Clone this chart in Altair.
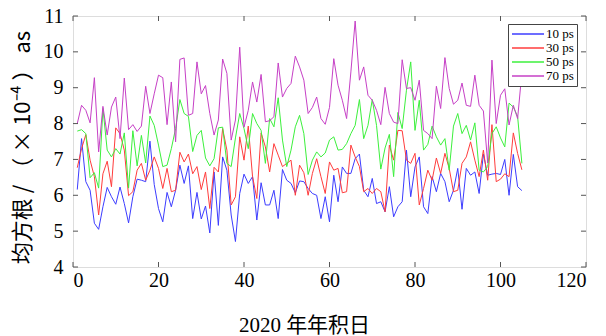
import altair as alt
import pandas as pd

days = list(range(1, 106))

s10 = [6.16, 7.58, 6.38, 6.14, 5.22, 5.05, 5.68, 6.22, 5.96, 5.75,
       6.23, 5.77, 5.23, 5.96, 6.45, 6.42, 6.38, 7.51, 6.30, 5.63,
       5.26, 6.08, 5.68, 6.14, 6.84, 6.33, 6.82, 5.35, 6.08, 5.34,
       5.70, 4.95, 6.65, 5.16, 7.07, 6.70, 5.45, 4.71, 6.05, 6.59,
       6.33, 6.52, 5.31, 6.35, 5.73, 5.73, 6.14, 5.35, 6.72, 6.42,
       6.33, 6.07, 6.40, 6.38, 6.19, 6.05, 6.00, 5.35, 5.96, 5.26,
       6.56, 5.82, 6.79, 6.61, 6.61, 7.02, 7.15, 6.14, 5.96, 6.47,
       5.77, 5.82, 5.54, 6.24, 5.40, 5.68, 5.82, 7.26, 5.96, 6.79,
       7.07, 5.68, 5.49, 6.52, 6.10, 6.61, 6.38, 5.82, 6.14, 6.75,
       5.61, 6.75, 6.56, 6.65, 6.05, 7.15, 6.56, 6.59, 6.61, 6.58,
       7.00, 6.00, 7.14, 6.24, 6.13]

s30 = [6.77, 7.30, 7.69, 6.98, 6.52, 5.45, 6.60, 6.95, 6.24, 7.88,
       7.72, 7.26, 5.99, 6.10, 6.70, 6.89, 6.42, 6.70, 7.07, 6.75,
       6.19, 6.75, 6.10, 6.14, 7.20, 6.93, 7.15, 6.60, 6.80, 6.16,
       6.65, 5.63, 6.78, 6.65, 7.86, 7.26, 5.73, 5.96, 7.63, 6.98,
       7.93, 6.52, 5.91, 7.74, 7.35, 6.65, 7.44, 7.12, 6.80, 6.89,
       6.98, 6.00, 6.84, 6.63, 6.00, 6.61, 7.02, 6.52, 6.05, 6.93,
       6.70, 6.75, 6.07, 6.10, 7.40, 7.07, 6.80, 6.10, 6.19, 6.05,
       6.19, 6.10, 5.54, 7.40, 6.98, 7.81, 7.80, 6.98, 6.89, 7.17,
       5.73, 6.19, 6.70, 6.42, 7.04, 6.61, 7.17, 6.75, 6.10, 6.14,
       6.89, 7.07, 7.49, 6.98, 6.52, 7.26, 6.42, 7.97, 6.38, 6.45,
       6.60, 6.52, 7.74, 7.17, 6.71]

s50 = [7.79, 7.83, 7.72, 6.49, 6.63, 6.20, 8.42, 7.26, 7.07, 7.30,
       7.15, 7.74, 6.20, 7.80, 6.82, 7.67, 6.90, 8.21, 7.95, 7.40,
       6.80, 6.84, 7.30, 7.86, 8.67, 8.28, 8.20, 7.22, 7.67, 7.81,
       7.04, 6.82, 7.02, 7.88, 7.90, 6.89, 6.80, 7.60, 8.28, 7.86,
       7.30, 8.28, 8.00, 7.81, 6.89, 8.14, 7.91, 8.72, 7.54, 6.80,
       7.26, 7.91, 8.23, 7.72, 6.58, 6.98, 7.21, 7.07, 7.18, 7.54,
       7.63, 7.26, 7.28, 7.44, 7.72, 7.95, 8.67, 7.58, 7.95, 8.67,
       7.95, 6.73, 7.32, 7.70, 6.52, 8.31, 7.86, 8.93, 9.72, 7.81,
       8.65, 7.26, 7.42, 7.93, 7.63, 7.40, 7.58, 6.70, 7.93, 8.28,
       7.72, 7.95, 7.54, 8.02, 6.70, 6.65, 6.80, 7.72, 7.91, 7.60,
       7.35, 8.57, 8.46, 8.20, 6.89]

s70 = [8.00, 8.51, 8.37, 8.02, 9.28, 7.21, 8.48, 7.68, 8.46, 8.74,
       7.58, 9.27, 7.83, 7.97, 7.78, 7.93, 9.04, 8.28, 8.83, 9.35,
       9.28, 7.97, 9.16, 7.49, 9.79, 9.83, 8.23, 8.28, 9.72, 8.83,
       9.06, 8.28, 7.68, 8.10, 9.80, 9.40, 7.54, 8.10, 10.13, 7.90,
       8.37, 9.16, 8.60, 9.37, 8.05, 8.08, 8.19, 9.69, 8.74, 8.98,
       9.12, 9.88, 9.58, 9.21, 8.28, 8.45, 8.74, 8.14, 7.98, 8.45,
       9.81, 9.07, 8.65, 8.14, 9.44, 10.86, 9.21, 9.58, 8.79, 8.65,
       8.37, 7.97, 9.01, 8.28, 8.04, 8.00, 9.78, 8.98, 9.00, 8.65,
       9.21, 7.81, 7.72, 7.58, 9.04, 8.42, 9.84, 8.98, 8.54, 8.65,
       9.13, 8.51, 8.48, 9.35, 8.51, 8.35, 6.90, 9.77, 8.00, 8.79,
       8.97, 7.96, 8.51, 8.14, 9.42]

series_names = ["10 ps", "30 ps", "50 ps", "70 ps"]
series_colors = ["#3c3cff", "#ff3c3c", "#3cf03c", "#c640c6"]
x_ticks = [0, 20, 40, 60, 80, 100, 120]
y_ticks = [4, 5, 6, 7, 8, 9, 10, 11]

rows = []
for name, vals in zip(series_names, [s10, s30, s50, s70]):
    for d, v in zip(days, vals):
        rows.append({"day": d, "value": v, "series": name})
df = pd.DataFrame(rows)

W, H = 513, 251
serif = "Liberation Serif, Noto Sans CJK SC"

xscale = alt.Scale(domain=[0, 120], nice=False)
yscale = alt.Scale(domain=[4, 11], nice=False)

x_axis = alt.Axis(values=x_ticks, title="2020 年年积日", grid=False,
                  ticks=False, domain=False, labelFontSize=20,
                  labelFont=serif, labelColor="black", labelPadding=3,
                  labelOverlap=False,
                  titleFont=serif, titleFontSize=21, titleFontWeight="normal",
                  titleColor="black", titleX=231, titleY=64,
                  titleBaseline="alphabetic", titleAlign="center")
y_axis = alt.Axis(values=y_ticks, title="均方根 / （ × 10⁻⁴ ） as", grid=False,
                  ticks=False, domain=False, labelFontSize=20,
                  labelFont=serif, labelColor="black", labelPadding=10,
                  labelOverlap=False,
                  titleFont="Noto Sans CJK SC", titleFontSize=22,
                  titleFontWeight="normal", titleColor="black",
                  titleX=-51, titleY=131, titleAngle=270,
                  titleAlign="center", titleBaseline="middle")

lines = alt.Chart(df).mark_line(strokeWidth=1).encode(
    x=alt.X("day:Q", scale=xscale, axis=x_axis, title="2020 年年积日"),
    y=alt.Y("value:Q", scale=yscale, axis=y_axis, title="均方根 / （ × 10⁻⁴ ） as"),
    color=alt.Color("series:N",
                    scale=alt.Scale(domain=series_names, range=series_colors),
                    legend=alt.Legend(title=None, orient="none", legendX=435, legendY=8,
                                      symbolType="M-2.67,0H2.67", symbolSize=144,
                                      labelFont=serif, labelFontSize=13,
                                      labelColor="black", symbolOffset=10,
                                      labelOffset=11, rowPadding=-1, padding=3,
                                      strokeColor="#444", fillColor="white")),
)

xt = pd.DataFrame({"t": x_ticks})
yt = pd.DataFrame({"t": y_ticks})
tick_color = "#555"
bottom_ticks = alt.Chart(xt).mark_rule(color=tick_color).encode(
    x=alt.X("t:Q", scale=xscale, axis=x_axis, title="2020 年年积日"),
    y=alt.value(H), y2=alt.value(H - 5))
top_ticks = alt.Chart(xt).mark_rule(color=tick_color).encode(
    x=alt.X("t:Q", scale=xscale, axis=x_axis, title="2020 年年积日"),
    y=alt.value(0), y2=alt.value(5))
left_ticks = alt.Chart(yt).mark_rule(color=tick_color).encode(
    y=alt.Y("t:Q", scale=yscale, axis=y_axis, title="均方根 / （ × 10⁻⁴ ） as"),
    x=alt.value(0), x2=alt.value(5))
right_ticks = alt.Chart(yt).mark_rule(color=tick_color).encode(
    y=alt.Y("t:Q", scale=yscale, axis=y_axis, title="均方根 / （ × 10⁻⁴ ） as"),
    x=alt.value(W), x2=alt.value(W - 5))

chart = alt.layer(lines, bottom_ticks, top_ticks, left_ticks, right_ticks).properties(
    width=W, height=H,
    autosize=alt.AutoSizeParams(type="none"),
    padding={"left": 65, "top": 8, "right": 12, "bottom": 69},
).configure_view(stroke="#555", strokeWidth=1).configure(background="white")

chart.save("out.html", embed_options={"renderer": "svg", "actions": False})
